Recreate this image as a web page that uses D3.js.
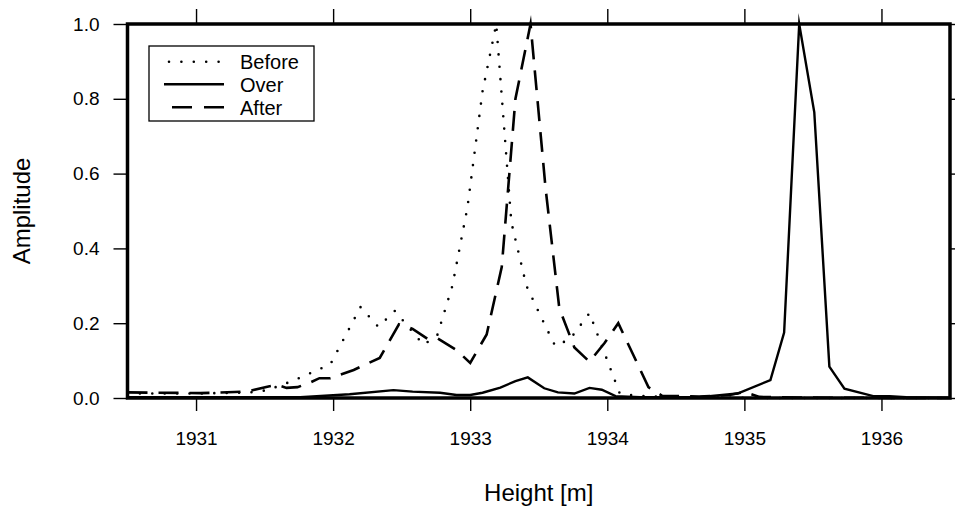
<!DOCTYPE html>
<html>
<head>
<meta charset="utf-8">
<script src="https://cdn.jsdelivr.net/npm/d3@7"></script>
<style>
  html, body { margin: 0; padding: 0; background: #fff; }
  svg text { font-family: "Liberation Sans", Arial, Helvetica, sans-serif; fill: #000; }
</style>
</head>
<body>
<svg id="chart" width="955" height="511"></svg>
<script>
// ---- data ----
const xTicks = [1931, 1932, 1933, 1934, 1935, 1936];
const yTicks = [0.0, 0.2, 0.4, 0.6, 0.8, 1.0];
const seriesNames = ["Before", "Over", "After"];

const beforeHeight = [1930.50, 1931.00, 1931.40, 1931.52, 1931.70, 1931.98, 1932.20, 1932.33, 1932.45, 1932.66, 1932.76, 1932.87, 1932.98, 1933.09, 1933.19, 1933.30, 1933.41, 1933.52, 1933.62, 1933.73, 1933.87, 1934.09, 1934.16, 1934.27, 1934.53, 1934.82, 1935.11, 1936.50];
const beforeAmp    = [0.012, 0.012, 0.015, 0.021, 0.045, 0.090, 0.243, 0.190, 0.233, 0.142, 0.168, 0.300, 0.510, 0.820, 1.000, 0.470, 0.300, 0.214, 0.139, 0.158, 0.227, 0.013, 0.008, 0.005, 0.002, 0.001, 0.000, 0.000];

const overHeight = [1930.50, 1931.76, 1932.12, 1932.44, 1932.58, 1932.78, 1932.90, 1933.00, 1933.09, 1933.22, 1933.33, 1933.42, 1933.54, 1933.64, 1933.76, 1933.87, 1933.96, 1934.06, 1934.24, 1934.67, 1934.95, 1935.19, 1935.29, 1935.40, 1935.51, 1935.62, 1935.73, 1935.94, 1936.06, 1936.18, 1936.50];
const overAmp    = [0.002, 0.002, 0.010, 0.021, 0.017, 0.014, 0.008, 0.008, 0.014, 0.028, 0.045, 0.055, 0.026, 0.015, 0.012, 0.027, 0.022, 0.005, 0.002, 0.002, 0.012, 0.048, 0.175, 1.000, 0.764, 0.084, 0.025, 0.005, 0.005, 0.002, 0.001];

const afterHeight = [1930.50, 1931.03, 1931.28, 1931.38, 1931.52, 1931.59, 1931.66, 1931.74, 1931.83, 1931.90, 1931.98, 1932.15, 1932.34, 1932.48, 1932.58, 1932.69, 1932.76, 1932.90, 1933.00, 1933.12, 1933.23, 1933.33, 1933.44, 1933.55, 1933.65, 1933.76, 1933.87, 1933.98, 1934.08, 1934.19, 1934.30, 1934.40, 1934.67, 1934.89, 1935.00, 1935.11, 1935.40, 1936.50];
const afterAmp    = [0.015, 0.013, 0.016, 0.018, 0.030, 0.035, 0.027, 0.029, 0.041, 0.053, 0.053, 0.075, 0.107, 0.197, 0.185, 0.158, 0.160, 0.128, 0.094, 0.170, 0.350, 0.800, 1.000, 0.560, 0.240, 0.135, 0.097, 0.147, 0.200, 0.115, 0.029, 0.006, 0.004, 0.008, 0.016, 0.003, 0.001, 0.000];

// ---- layout ----
const svg = d3.select("#chart");
const L = 127.5, R = 950, T = 24, B = 398;
const x = d3.scaleLinear().domain([1930.5, 1936.5]).range([L, R]);
const y = d3.scaleLinear().domain([0, 1]).range([B, T]);

const zip = (hs, as) => hs.map((h, i) => [h, as[i]]);
const series = [
  { name: "Before", data: zip(beforeHeight, beforeAmp), dash: "0,12.4", width: 2.6, cap: "round" },
  { name: "Over",   data: zip(overHeight, overAmp),     dash: null,     width: 2.4, cap: "butt" },
  { name: "After",  data: zip(afterHeight, afterAmp),   dash: "20,11",  width: 2.6, cap: "butt" }
];

const line = d3.line().x(d => x(d[0])).y(d => y(d[1]));

// axes
function styleAxis(g) {
  g.select(".domain").remove();
  g.selectAll(".tick line").attr("stroke", "#000").attr("stroke-width", 1.4);
  g.selectAll(".tick text").attr("font-size", 19).attr("font-family", "Liberation Sans, Arial, sans-serif").attr("fill", "#000");
}
svg.append("g").attr("transform", `translate(0,${B})`)
  .call(d3.axisBottom(x).tickValues(xTicks).tickSize(13).tickPadding(21).tickFormat(d3.format("d")))
  .call(styleAxis);
svg.append("g").attr("transform", `translate(0,${T})`)
  .call(d3.axisTop(x).tickValues(xTicks).tickSize(15).tickFormat(""))
  .call(styleAxis);
svg.append("g").attr("transform", `translate(${L},0)`)
  .call(d3.axisLeft(y).tickValues(yTicks).tickSize(14).tickPadding(14).tickFormat(d3.format(".1f")))
  .call(styleAxis);
svg.append("g").attr("transform", `translate(${R},0)`)
  .call(d3.axisRight(y).tickValues(yTicks).tickSize(14).tickFormat(""))
  .call(styleAxis);

// series lines
series.forEach(s => {
  svg.append("path")
    .datum(s.data)
    .attr("d", line)
    .attr("fill", "none")
    .attr("stroke", "#000")
    .attr("stroke-width", s.width)
    .attr("stroke-linejoin", "miter")
    .attr("stroke-miterlimit", 10)
    .attr("stroke-linecap", s.cap)
    .attr("stroke-dasharray", s.dash);
});

// frame
svg.append("rect")
  .attr("x", L).attr("y", T).attr("width", R - L).attr("height", B - T)
  .attr("fill", "none").attr("stroke", "#000").attr("stroke-width", 3.5);

// axis titles
svg.append("text")
  .attr("x", (L + R) / 2).attr("y", 501)
  .attr("text-anchor", "middle").attr("font-size", 24)
  .text("Height [m]");
svg.append("text")
  .attr("transform", `translate(30,${(T + B) / 2}) rotate(-90)`)
  .attr("text-anchor", "middle").attr("font-size", 24)
  .text("Amplitude");

// legend
const lg = svg.append("g");
lg.append("rect").attr("x", 149).attr("y", 46).attr("width", 165).attr("height", 75)
  .attr("fill", "#fff").attr("stroke", "#000").attr("stroke-width", 1.3);
const rowY = [61.7, 84.3, 107.3];
series.forEach((s, i) => {
  lg.append("line")
    .attr("x1", s.name === "Before" ? 169 : (s.name === "After" ? 172 : 164))
    .attr("x2", s.name === "Before" ? 226 : 224)
    .attr("y1", rowY[i]).attr("y2", rowY[i])
    .attr("stroke", "#000").attr("stroke-width", s.width)
    .attr("stroke-linecap", s.cap)
    .attr("stroke-dasharray", s.dash === "20,11" ? "20,12" : s.dash);
  lg.append("text")
    .attr("x", 240).attr("y", rowY[i] + 7.5)
    .attr("font-size", 20)
    .text(seriesNames[i]);
});
</script>
</body>
</html>
